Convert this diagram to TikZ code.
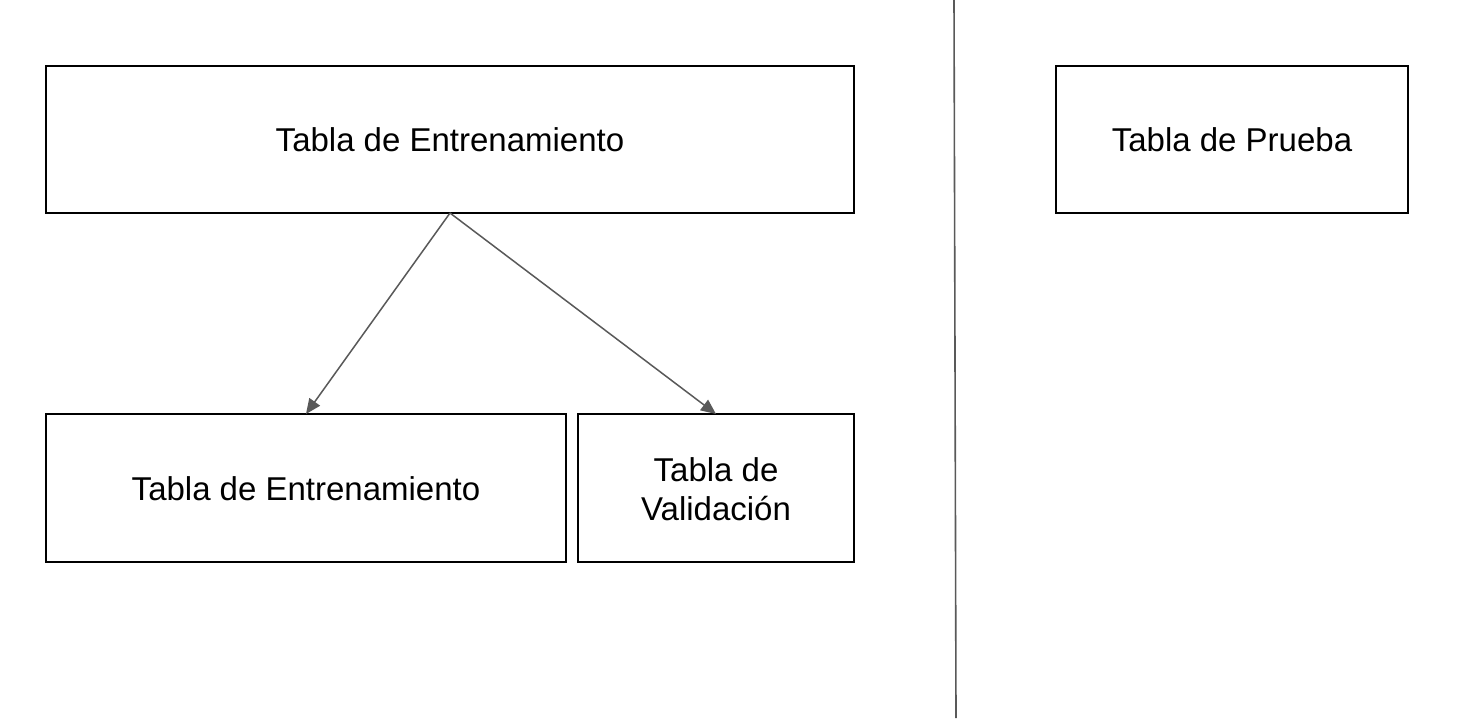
\documentclass[tikz,border=0pt]{standalone}
\usepackage{fontspec}
\setmainfont{Liberation Sans}
\usetikzlibrary{arrows.meta}
\begin{document}
\begin{tikzpicture}[x=1pt,y=-1pt,
  tbox/.style={draw=black,line width=1.8pt,fill=white},
  lbl/.style={font=\fontsize{33}{39}\selectfont,align=center,text=black},
  conn/.style={draw=black!65,line width=1.5pt,-{Triangle[length=15pt,width=13pt]}},
  divider/.style={draw=black!65,line width=1.6pt}]
\useasboundingbox (0,0) rectangle (1458,718);
\fill[white] (0,0) rectangle (1458,718);
\draw[tbox] (46,66) rectangle (854,213);
\node[lbl] (top) at (450,140) {Tabla de Entrenamiento};
\coordinate (topS) at (450,213);
\draw[tbox] (46,414) rectangle (566,562);
\node[lbl] (bl) at (306,489) {Tabla de Entrenamiento};
\coordinate (blN) at (306,414);
\draw[tbox] (578,414) rectangle (854,562);
\node[lbl] (br) at (716,489) {Tabla de\\Validación};
\coordinate (brN) at (716,414);
\draw[tbox] (1056,66) rectangle (1408,213);
\node[lbl] (tr) at (1232,140) {Tabla de Prueba};
\coordinate (dTop) at (954,0);
\coordinate (dBot) at (956,718);
\draw[divider] (dTop) -- (dBot);
\draw[conn] (topS) -- (blN);
\draw[conn] (topS) -- (brN);
\end{tikzpicture}
\end{document}
